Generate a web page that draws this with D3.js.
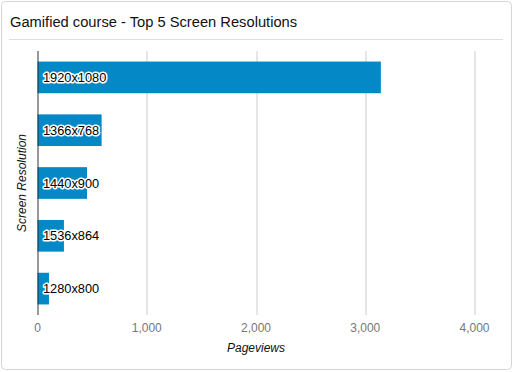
<!DOCTYPE html>
<meta charset="utf-8">
<script src="https://d3js.org/d3.v7.min.js"></script>
<style>
  body { margin: 0; background: #fff; font-family: "Liberation Sans", Arial, sans-serif; }
</style>
<div id="my_dataviz"></div>
<script>

// data
var resolutions = ["1920x1080", "1366x768", "1440x900", "1536x864", "1280x800"];
var pageviews = [3143, 587, 453, 242, 105];
var xTicks = [0, 1000, 2000, 3000, 4000];

var W = 513, H = 372;
var margin = {top: 51, right: 38.5, bottom: 57, left: 37.5},
    width = W - margin.left - margin.right,
    height = H - margin.top - margin.bottom;

var root = d3.select("#my_dataviz")
  .append("svg")
    .attr("width", W)
    .attr("height", H);

// card frame
root.append("rect")
  .attr("x", 1.5).attr("y", 1.5)
  .attr("width", W - 3).attr("height", H - 4)
  .attr("rx", 4)
  .attr("fill", "#fff")
  .attr("stroke", "#d6d6d6");

// title
root.append("text")
  .attr("x", 10).attr("y", 27)
  .style("font-size", "14.7px")
  .style("fill", "#111")
  .text("Gamified course - Top 5 Screen Resolutions");

root.append("line")
  .attr("x1", 9).attr("x2", 503)
  .attr("y1", 39.5).attr("y2", 39.5)
  .attr("stroke", "#ddd");

var svg = root.append("g")
  .attr("transform", "translate(" + margin.left + "," + margin.top + ")");

var x = d3.scaleLinear().domain([0, 4000]).range([0, width]);
var y = d3.scaleBand().domain(resolutions).range([0, height]).paddingInner(0.4).paddingOuter(0.2);

// gridlines
svg.selectAll("grid")
  .data(xTicks.slice(1))
  .enter()
  .append("line")
    .attr("x1", function(d) { return Math.round(x(d)) + 0.5; })
    .attr("x2", function(d) { return Math.round(x(d)) + 0.5; })
    .attr("y1", 0).attr("y2", height)
    .attr("stroke", "#cccccc");

// bars
svg.selectAll("bars")
  .data(resolutions)
  .enter()
  .append("rect")
    .attr("x", x(0))
    .attr("y", function(d) { return y(d); })
    .attr("width", function(d, i) { return x(pageviews[i]) - x(0); })
    .attr("height", y.bandwidth())
    .attr("fill", "#0489c6");

// zero axis line
svg.append("line")
  .attr("x1", 0.5).attr("x2", 0.5)
  .attr("y1", 0).attr("y2", height)
  .attr("stroke", "#333");

// bar labels with white halo
svg.selectAll("labels")
  .data(resolutions)
  .enter()
  .append("text")
    .attr("x", 5.5)
    .attr("y", function(d) { return y(d) + y.bandwidth() / 2 + 4.5; })
    .style("font-size", "12.8px")
    .style("fill", "#000")
    .style("stroke", "#fff")
    .style("stroke-width", 3)
    .style("paint-order", "stroke")
    .style("stroke-linejoin", "round")
    .text(function(d) { return d; });

// x tick labels
svg.selectAll("xlabels")
  .data(xTicks)
  .enter()
  .append("text")
    .attr("x", function(d) { return x(d); })
    .attr("y", height + 17)
    .attr("text-anchor", "middle")
    .style("font-size", "12px")
    .style("fill", "#777")
    .text(function(d) { return d3.format(",")(d); });

// axis titles
svg.append("text")
  .attr("x", width / 2)
  .attr("y", height + 37)
  .attr("text-anchor", "middle")
  .style("font-size", "12px")
  .style("font-style", "italic")
  .style("fill", "#111")
  .text("Pageviews");

svg.append("text")
  .attr("transform", "rotate(-90)")
  .attr("x", -height / 2)
  .attr("y", -12)
  .attr("text-anchor", "middle")
  .style("font-size", "12px")
  .style("font-style", "italic")
  .style("fill", "#111")
  .text("Screen Resolution");

</script>
